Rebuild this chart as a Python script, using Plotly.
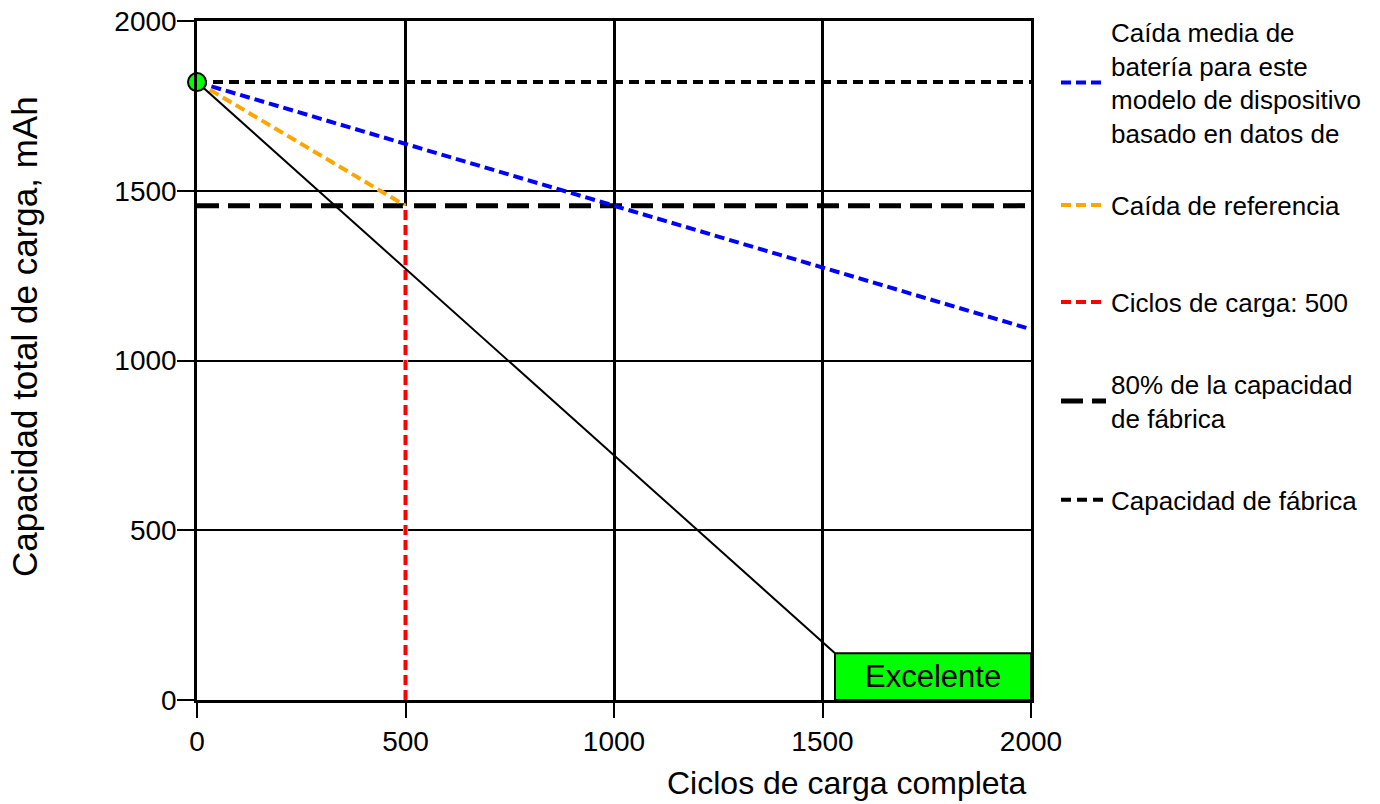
import plotly.graph_objects as go

# ---- data ----
tick_vals = [0, 500, 1000, 1500, 2000]
tick_text = ["0", "500", "1000", "1500", "2000"]

factory_x = [0, 2000]
factory_y = [1820, 1820]

cap80_x = [0, 2000]
cap80_y = [1456, 1456]

avg_x = [0, 2000]
avg_y = [1820, 1092]

ref_x = [0, 500]
ref_y = [1820, 1456]

cyc_x = [500, 500]
cyc_y = [0, 1456]

device_x = [0, 1530]
device_y = [1820, 138]

point_x = [0]
point_y = [1820]

box_x = [1530, 2000]
box_y = [0, 138]
box_label = "Excelente"

names = [
    "Caída media de<br>batería para este<br>modelo de dispositivo<br>basado en datos de",
    "Caída de referencia",
    "Ciclos de carga: 500",
    "80% de la capacidad<br>de fábrica",
    "Capacidad de fábrica",
]
x_title = "Ciclos de carga completa"
y_title = "Capacidad total de carga, mAh"

FONT = "Liberation Sans, Arial, sans-serif"

fig = go.Figure()

fig.add_trace(go.Scatter(x=factory_x, y=factory_y, mode="lines", name=names[4],
                         line=dict(color="black", width=4, dash="10px,6px"),
                         legend="legend5", cliponaxis=False))
fig.add_trace(go.Scatter(x=cap80_x, y=cap80_y, mode="lines", name=names[3],
                         line=dict(color="black", width=5, dash="22px,9px"),
                         legend="legend4", cliponaxis=False))
fig.add_trace(go.Scatter(x=avg_x, y=avg_y, mode="lines", name=names[0],
                         line=dict(color="#0000ff", width=4, dash="10px,5px"),
                         legend="legend"))
fig.add_trace(go.Scatter(x=ref_x, y=ref_y, mode="lines", name=names[1],
                         line=dict(color="#ffa500", width=4, dash="10px,5px"),
                         legend="legend2"))
fig.add_trace(go.Scatter(x=cyc_x, y=cyc_y, mode="lines", showlegend=False,
                         line=dict(color="white", width=5), hoverinfo="skip"))
fig.add_trace(go.Scatter(x=cyc_x, y=cyc_y, mode="lines", name=names[2],
                         line=dict(color="#ff0000", width=4, dash="10px,5px"),
                         legend="legend3"))
fig.add_trace(go.Scatter(x=device_x, y=device_y, mode="lines", showlegend=False,
                         line=dict(color="black", width=2)))
fig.add_trace(go.Scatter(x=point_x, y=point_y, mode="markers", showlegend=False,
                         marker=dict(color="#00ff00", size=18,
                                     line=dict(color="black", width=2)),
                         cliponaxis=False))

fig.add_shape(type="rect", xref="x", yref="y",
              x0=box_x[0], x1=box_x[1], y0=box_y[0], y1=box_y[1],
              fillcolor="#00ff00", line=dict(color="black", width=2), layer="above")
fig.add_annotation(x=(box_x[0] + box_x[1]) / 2, y=(box_y[0] + box_y[1]) / 2,
                   xref="x", yref="y", text=box_label, showarrow=False,
                   font=dict(family=FONT, size=31, color="black"))

fig.add_annotation(x=0.779, y=-0.122, xref="paper", yref="paper", text=x_title,
                   showarrow=False, xanchor="center", yanchor="middle",
                   font=dict(family=FONT, size=32, color="black"))
fig.add_annotation(x=-0.206, y=0.535, xref="paper", yref="paper", text=y_title,
                   showarrow=False, textangle=-90, xanchor="center", yanchor="middle",
                   font=dict(family=FONT, size=35, color="black"))

leg_common = dict(xanchor="left", yanchor="middle", bgcolor="rgba(0,0,0,0)",
                  borderwidth=0, font=dict(family=FONT, size=26, color="black"),
                  itemwidth=45, itemclick=False)
legend_y = {"legend": 0.909, "legend2": 0.729, "legend3": 0.586,
            "legend4": 0.440, "legend5": 0.2946}
for key, yv in legend_y.items():
    fig.update_layout(**{key: dict(x=1.03, y=yv, **leg_common)})

fig.update_layout(
    width=1380, height=804,
    margin=dict(l=197, r=349, t=21, b=104, autoexpand=False),
    paper_bgcolor="white", plot_bgcolor="white",
    font=dict(family=FONT, color="black"),
    xaxis=dict(range=[0, 2000], tickvals=tick_vals, ticktext=tick_text,
               showgrid=True, gridcolor="black", gridwidth=2.5,
               showline=True, mirror=True, linecolor="black", linewidth=2.5,
               zeroline=False, ticks="outside", ticklen=15, tickwidth=2,
               ticklabeloverflow="allow",
               tickcolor="black", tickfont=dict(family=FONT, size=28, color="black")),
    yaxis=dict(range=[0, 2000], tickvals=tick_vals, ticktext=tick_text,
               showgrid=True, gridcolor="black", gridwidth=2,
               showline=True, mirror=True, linecolor="black", linewidth=2.5,
               zeroline=False, ticks="outside", ticklen=17, tickwidth=2,
               ticklabelstandoff=-5, ticklabeloverflow="allow",
               tickcolor="black", tickfont=dict(family=FONT, size=28, color="black")),
)

fig.write_html("out.html",
               config={"displayModeBar": False},
               post_script="document.body.style.margin='0px';"
                           "document.body.style.overflow='hidden';")
